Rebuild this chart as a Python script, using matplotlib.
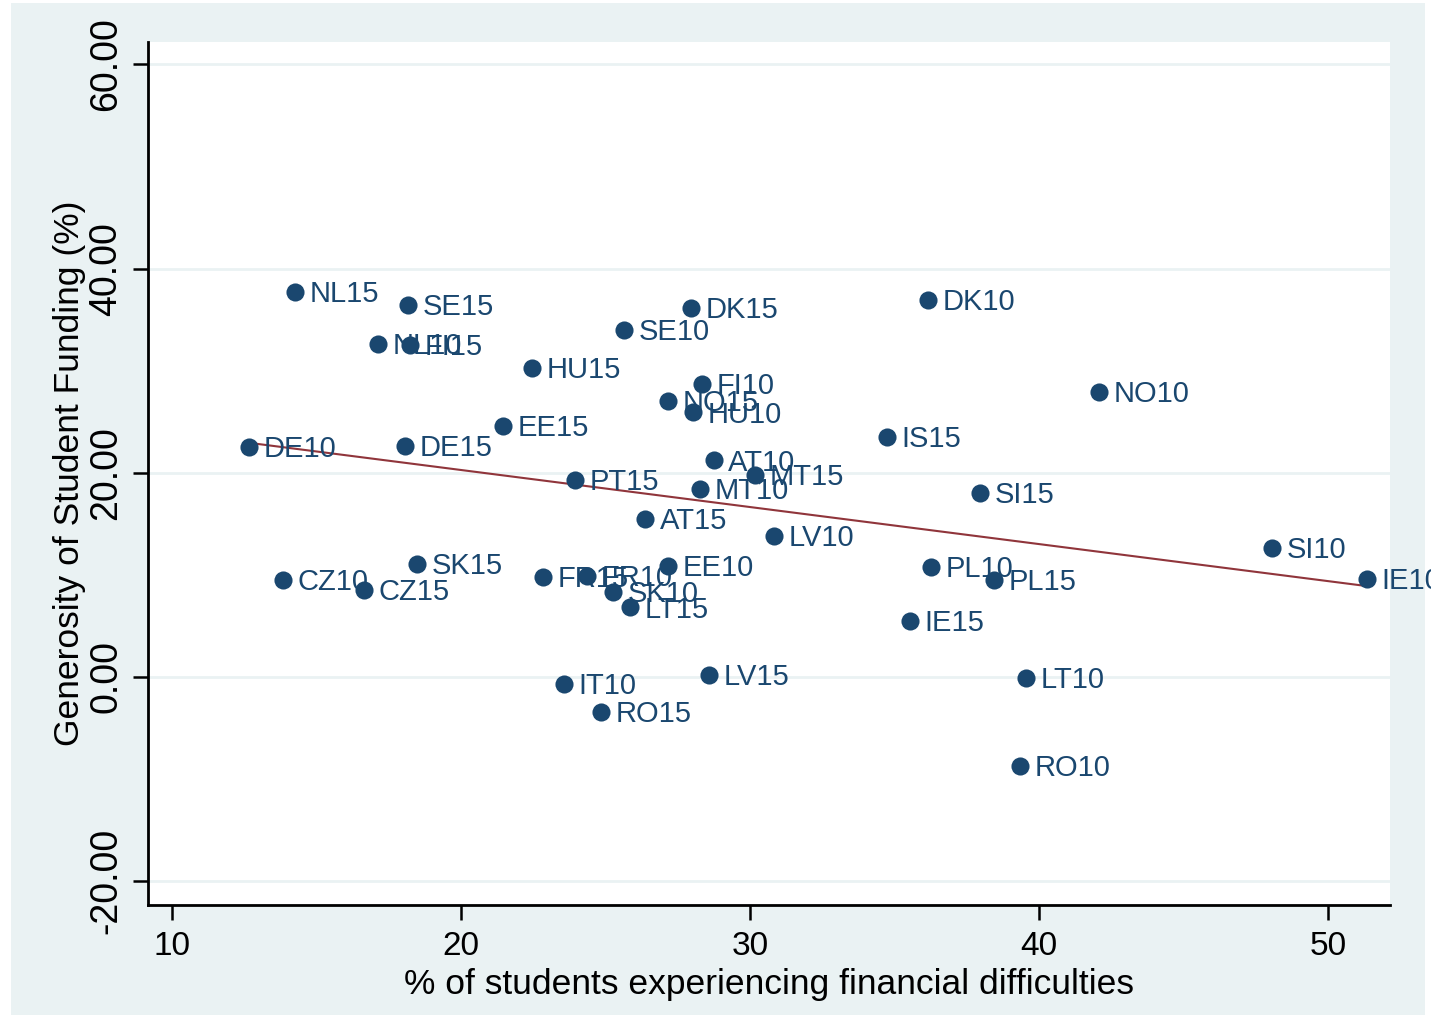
import matplotlib
matplotlib.use("Agg")
from matplotlib import pyplot as plt
from matplotlib.patches import Rectangle
import numpy as np

# country-year labels, % of students with financial difficulties, generosity of funding
labels = ["NL15", "SE15", "NL10", "FI15", "DE10", "DE15", "EE15", "HU15", "SE10", "DK15",
          "FI10", "NO15", "HU10", "PT15", "AT10", "MT15", "MT10", "AT15", "LV10", "DK10",
          "NO10", "IS15", "SI15", "SI10", "IE10", "PL10", "PL15", "IE15", "LT10", "RO10",
          "CZ10", "CZ15", "SK15", "FR15", "FR10", "SK10", "LT15", "EE10", "IT10", "RO15",
          "LV15"]
difficulties = [14.26, 18.17, 17.13, 18.24, 12.66, 18.06, 21.45, 22.46, 25.64, 27.96,
                28.34, 27.16, 28.03, 23.94, 28.75, 30.17, 28.27, 26.37, 30.83, 36.16,
                42.08, 34.74, 37.96, 48.06, 51.35, 36.26, 38.44, 35.54, 39.55, 39.34,
                13.84, 16.64, 18.48, 22.84, 24.36, 25.26, 25.85, 27.16, 23.56, 24.84,
                28.58]
generosity = [37.7, 36.4, 32.6, 32.5, 22.5, 22.6, 24.6, 30.3, 34.0, 36.1,
              28.7, 27.0, 25.9, 19.3, 21.2, 19.8, 18.4, 15.5, 13.8, 36.9,
              27.9, 23.5, 18.0, 12.6, 9.6, 10.8, 9.5, 5.5, -0.1, -8.7,
              9.5, 8.5, 11.1, 9.8, 9.9, 8.3, 6.8, 10.9, -0.7, -3.4,
              0.2]
x_ticks = [10, 20, 30, 40, 50]
y_ticks = [-20, 0, 20, 40, 60]

navy = "#1a476f"
maroon = "#90353b"
bg = "#eaf2f3"

plt.rcParams["font.family"] = ["Liberation Sans", "DejaVu Sans"]

fig = plt.figure(figsize=(14.31, 10.19), dpi=100, facecolor="white")
fig.patches.append(Rectangle((0.008, 0.004), 0.988, 0.993, transform=fig.transFigure,
                             facecolor=bg, edgecolor="none", zorder=-10))
ax = fig.add_axes([0.1034, 0.1119, 0.8679, 0.8469])
ax.set_facecolor("white")

x = np.array(difficulties)
y = np.array(generosity)

# linear fit over the data range
b, a = np.polyfit(x, y, 1)
xs = np.array([x.min(), x.max()])
ax.plot(xs, a + b * xs, color=maroon, lw=1.5, zorder=3)

ax.scatter(x, y, s=170, color=navy, zorder=4, linewidths=0)
for lab, xi, yi in zip(labels, x, y):
    ax.annotate(lab, (xi, yi), xytext=(10.5, -1.5), textcoords="offset points",
                ha="left", va="center", fontsize=21, color=navy, zorder=5)

ax.set_xlim(9.17, 52.15)
ax.set_ylim(-22.35, 62.2)
ax.set_xticks(x_ticks)
ax.set_yticks(y_ticks)
ax.set_yticklabels(["%.2f" % v for v in y_ticks], rotation=90, va="center")
ax.yaxis.grid(True, color=bg, lw=2)
ax.set_axisbelow(True)

for side in ["top", "right"]:
    ax.spines[side].set_visible(False)
for side in ["left", "bottom"]:
    ax.spines[side].set_linewidth(2)
ax.tick_params(axis="both", direction="out", length=11, width=1.8, pad=8)
ax.tick_params(axis="x", labelsize=24)
ax.tick_params(axis="y", labelsize=27, pad=6)

ax.set_xlabel("% of students experiencing financial difficulties", fontsize=25.5, labelpad=4)
ax.set_ylabel("Generosity of Student Funding (%)", fontsize=25.5, labelpad=2)

fig.savefig("out.png", dpi=100, facecolor="white")
